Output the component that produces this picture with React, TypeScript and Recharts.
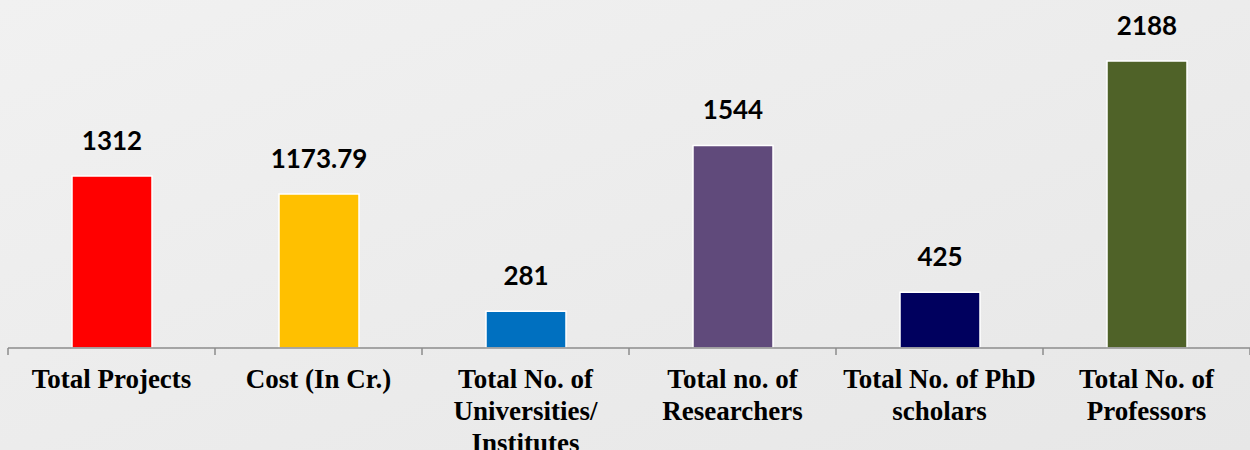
import React from "react";
import { BarChart, Bar, XAxis, YAxis, Cell, LabelList } from "recharts";

const categories = [
  "Total Projects",
  "Cost (In Cr.)",
  "Total No. of\nUniversities/\nInstitutes",
  "Total no. of\nResearchers",
  "Total No. of PhD\nscholars",
  "Total No. of\nProfessors",
];
const values = [1312, 1173.79, 281, 1544, 425, 2188];
const colors = ["#ff0000", "#ffc000", "#0070c0", "#604a7b", "#00005e", "#4f6228"];

const data = categories.map((name, i) => ({ name, value: values[i] }));

const W = 1250;
const H = 450;
const margin = { top: 61, right: 0, left: 8, bottom: 0 };
const band = (W - margin.left - margin.right) / categories.length;

function CategoryTick(props: any) {
  const { x, y, payload, index } = props;
  const lines = String(payload.value).split("\n");
  const last = index === categories.length - 1;
  return (
    <g>
      <line x1={x - band / 2} x2={x - band / 2} y1={y - 8} y2={y - 1} stroke="#8c8c8c" strokeWidth={1.5} />
      {last && (
        <line x1={x + band / 2} x2={x + band / 2} y1={y - 8} y2={y - 1} stroke="#8c8c8c" strokeWidth={1.5} />
      )}
      <text
        x={x}
        y={y + 32}
        textAnchor="middle"
        fill="#000"
        style={{ fontFamily: "'Liberation Serif', 'Times New Roman', serif", fontWeight: 700, fontSize: 27 }}
      >
        {lines.map((l, i) => (
          <tspan key={i} x={x} dy={i === 0 ? 0 : 32}>
            {l}
          </tspan>
        ))}
      </text>
    </g>
  );
}

function ValueLabel(props: any) {
  const { x, y, width, value } = props;
  return (
    <text
      x={Number(x) + Number(width) / 2}
      y={Number(y) - 26}
      textAnchor="middle"
      fill="#000"
      style={{ fontFamily: "Lato, 'Noto Sans', sans-serif", fontWeight: 700, fontSize: 26 }}
    >
      {value}
    </text>
  );
}

export default function App() {
  return (
    <div
      style={{
        position: "absolute",
        top: 0,
        left: 0,
        width: W,
        height: H,
        background: "linear-gradient(160deg, #f1f1f1 0%, #ebebeb 60%, #e7e7e7 100%)",
      }}
    >
      <BarChart width={W} height={H} data={data} margin={margin}>
        <XAxis
          dataKey="name"
          interval={0}
          height={102}
          tickSize={8}
          tickMargin={0}
          tickLine={false}
          axisLine={{ stroke: "#8c8c8c", strokeWidth: 1.5 }}
          tick={<CategoryTick />}
        />
        <YAxis hide domain={[0, "dataMax"]} />
        <Bar dataKey="value" barSize={80} stroke="#ffffff" strokeWidth={1.5} isAnimationActive={false}>
          {data.map((d, i) => (
            <Cell key={d.name} fill={colors[i]} />
          ))}
          <LabelList dataKey="value" content={<ValueLabel />} />
        </Bar>
      </BarChart>
    </div>
  );
}
